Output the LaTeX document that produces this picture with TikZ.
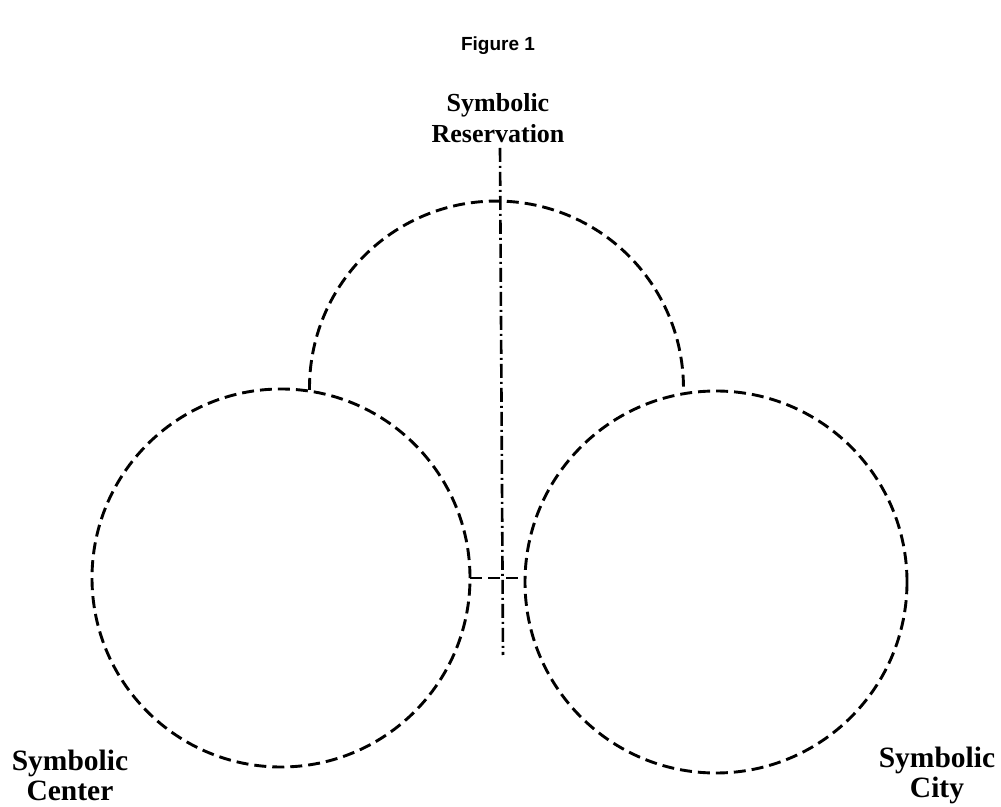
\documentclass[tikz,border=0pt]{standalone}
\usepackage{fontspec}
\setmainfont{Liberation Serif}
\newfontfamily\figfont{Liberation Sans}
\usetikzlibrary{positioning}
\tikzset{
  ring/.style={line width=2.9pt,dash pattern=on 12pt off 6pt},
  axisln/.style={line width=2.6pt,dash pattern=on 14pt off 4pt on 2pt off 4pt},
  lbl/.style={font=\fontsize{26}{31}\selectfont\bfseries,align=center,inner sep=0pt},
  biglbl/.style={font=\fontsize{29.5}{30}\selectfont\bfseries,align=center,inner sep=0pt},
}
\begin{document}
\begin{tikzpicture}[x=1pt,y=1pt]
  \useasboundingbox (0,0) rectangle (1001,806);
  % title
  \node[font=\figfont\fontsize{19}{21}\selectfont\bfseries] (title) at (498,760) {Figure 1};
  % the three symbolic places
  \draw[ring] (281,228) circle[radius=189pt];
  \draw[ring] (716,224) circle[radius=191pt];
  \draw[ring] (309.5,416) arc[start angle=180.6,end angle=-0.6,radius=187pt];
  % link between the lower circles
  \coordinate (lj) at (470,228);
  \coordinate (rj) at (525,228);
  \draw[ring] (lj) -- (rj);
  % vertical axis
  \coordinate (atop) at (500,658);
  \coordinate (abot) at (503,151);
  \draw[axisln] (atop) -- (abot);
  % labels
  \node[lbl] (res) at (498,688) {Symbolic\\Reservation};
  \node[biglbl] (cen) at (70,31) {Symbolic\\Center};
  \node[biglbl] (city) at (937,31) {Symbolic\\City};
\end{tikzpicture}
\end{document}
